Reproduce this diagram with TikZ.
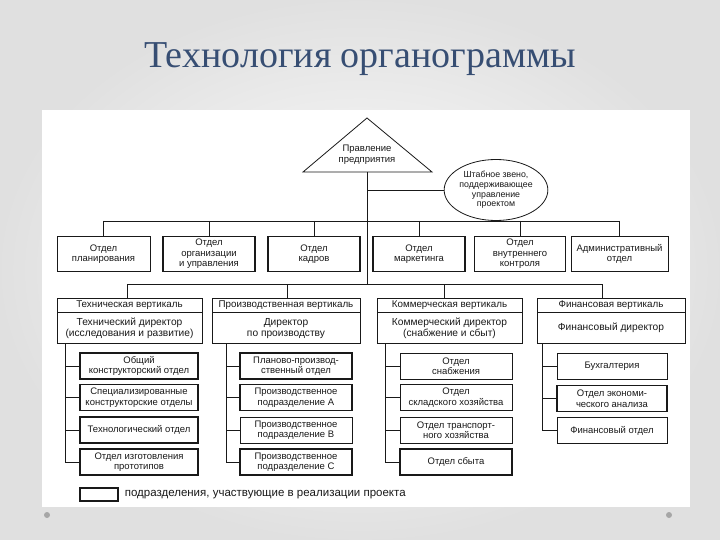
\documentclass[tikz,border=0pt]{standalone}
\usepackage{fontspec}
\setmainfont{Liberation Sans}
\newfontfamily\titlefont{Liberation Serif}
\usetikzlibrary{positioning, shapes.geometric}
\definecolor{titleblue}{RGB}{55,78,115}
\definecolor{scanink}{RGB}{25,25,25}

\begin{document}
\begin{tikzpicture}[x=1pt, y=-1pt,
		unit/.style={draw=scanink, line width=0.6pt, align=center, inner sep=1pt, text=scanink,
			font=\fontsize{9.5}{10.5}\selectfont, minimum height=26pt},
		keyunit/.style={unit, line width=1.25pt},
		topunit/.style={minimum height=35pt},
		headbox/.style={unit, minimum height=14pt, minimum width=#1, font=\fontsize{9.8}{11}\selectfont},
		dirbox/.style={unit, minimum height=31pt, minimum width=#1, font=\fontsize{10.2}{11}\selectfont},
		wire/.style={draw=scanink, line width=0.8pt}
		]
		% slide background and scanned sheet
		\useasboundingbox (0,0) rectangle (720,540);
		\shade[inner color=white, outer color=gray!24] (0,0) rectangle (720,540);
		\fill[white] (42,110) rectangle (690,507);
		\fill[gray!70] (47,515) circle (3pt);
		\fill[gray!70] (669,515) circle (3pt);
		\node at (360,68) [name=title, anchor=base, text=titleblue, font=\titlefont\fontsize{38}{40}\selectfont] {Технология органограммы};

		% board and staff unit
		\coordinate (apex) at (367,118);
		\coordinate (base) at (367,172);
		\draw[wire] (apex) -- (303,172) -- (432,172) -- cycle;
		\node at (367,155) [name=board, align=center, inner sep=0pt, text=scanink, font=\fontsize{9.5}{11}\selectfont] {Правление\\предприятия};
		\node at (496,190) [name=staff, ellipse, draw=scanink, line width=0.8pt, inner sep=0pt, minimum width=100pt, minimum height=61pt,
			align=center, text=scanink, font=\fontsize{8.8}{9.6}\selectfont] {Штабное звено,\\поддерживающее\\управление\\проектом};

		% functional departments
		\node at (103.5,254) [name=plan, unit, topunit, minimum width=93pt] {Отдел\\планирования};
		\node at (209,254) [name=org, keyunit, topunit, minimum width=92pt] {Отдел\\организации\\и управления};
		\node at (314,254) [name=hr, keyunit, topunit, minimum width=92pt] {Отдел\\кадров};
		\node at (419,254) [name=mkt, keyunit, topunit, minimum width=92pt] {Отдел\\маркетинга};
		\node at (520,254) [name=ctrl, unit, topunit, minimum width=91pt] {Отдел\\внутреннего\\контроля};
		\node at (619.5,254) [name=adm, unit, topunit, minimum width=97pt] {Административный\\отдел};

		% verticals
		\node at (129.5,305) [name=techhead, headbox=145pt] {Техническая вертикаль};
		\node [name=techdir, below=0pt of techhead, dirbox=145pt] {Технический директор\\(исследования и развитие)};
		\node at (286,305) [name=prodhead, headbox=148pt] {Производственная вертикаль};
		\node [name=proddir, below=0pt of prodhead, dirbox=148pt] {Директор\\по производству};
		\node at (449.5,305) [name=commhead, headbox=145pt] {Коммерческая вертикаль};
		\node [name=commdir, below=0pt of commhead, dirbox=145pt] {Коммерческий директор\\(снабжение и сбыт)};
		\node at (611,305) [name=finhead, headbox=148pt] {Финансовая вертикаль};
		\node [name=findir, below=0pt of finhead, dirbox=148pt] {Финансовый директор};

		% units of the verticals
		\node at (139,366) [name=tech1, keyunit, minimum width=118pt] {Общий\\конструкторский отдел};
		\node at (139,397.5) [name=tech2, keyunit, minimum width=118pt] {Специализированные\\конструкторские отделы};
		\node at (139,430) [name=tech3, keyunit, minimum width=118pt] {Технологический отдел};
		\node at (139,462) [name=tech4, keyunit, minimum width=118pt] {Отдел изготовления\\прототипов};
		\node at (296,366) [name=prod1, keyunit, minimum width=112pt] {Планово-производ-\\ственный отдел};
		\node at (296,397.5) [name=prod2, keyunit, minimum width=112pt] {Производственное\\подразделение А};
		\node at (296,430) [name=prod3, unit, minimum width=112pt] {Производственное\\подразделение В};
		\node at (296,462) [name=prod4, keyunit, minimum width=112pt] {Производственное\\подразделение С};
		\node at (456,366) [name=comm1, unit, minimum width=112pt] {Отдел\\снабжения};
		\node at (456,397.5) [name=comm2, unit, minimum width=112pt] {Отдел\\складского хозяйства};
		\node at (456,430) [name=comm3, unit, minimum width=112pt] {Отдел транспорт-\\ного хозяйства};
		\node at (456,462) [name=comm4, keyunit, minimum width=112pt] {Отдел сбыта};
		\node at (612,366) [name=fin1, unit, minimum width=110pt] {Бухгалтерия};
		\node at (612,398.5) [name=fin2, keyunit, minimum width=110pt] {Отдел экономи-\\ческого анализа};
		\node at (612,430.5) [name=fin3, unit, minimum width=110pt] {Финансовый отдел};

		% legend
		\node at (99,494.5) [name=keybox, keyunit, minimum width=38pt, minimum height=13pt] {};
		\node [name=keytext, right=6pt of keybox, inner sep=0pt, text=scanink, font=\fontsize{11.5}{13}\selectfont] {подразделения, участвующие в реализации проекта};

		% connectors
		\coordinate (bus1) at (367,221);
		\coordinate (bus2) at (367,284);
		\draw[wire] (base) -- (bus2);
		\draw[wire] (base |- staff.west) -- (staff.west);
		\draw[wire] (plan.north |- bus1) -- (adm.north |- bus1);
		\foreach \n in {plan, org, hr, mkt, ctrl, adm}
			\draw[wire] (\n.north |- bus1) -- (\n.north);
		\draw[wire] ([xshift=-2pt]techhead.north |- bus2) -- ([xshift=-9pt]finhead.north |- bus2);
		\foreach \n/\dx in {techhead/-2, prodhead/1, commhead/-5, finhead/-9}
			\draw[wire] ([xshift=\dx pt]\n.north |- bus2) -- ([xshift=\dx pt]\n.north);
		\foreach \col/\dx/\last in {tech/9/4, prod/15/4, comm/9/4, fin/6/3} {
			\coordinate (\col spine) at ([xshift=\dx pt]\col dir.south west);
			\draw[wire] (\col spine) |- (\col\last.west);
			\foreach \i in {1,...,\last}
				\draw[wire] (\col spine |- \col\i.west) -- (\col\i.west);
		}
	\end{tikzpicture}
\end{document}
